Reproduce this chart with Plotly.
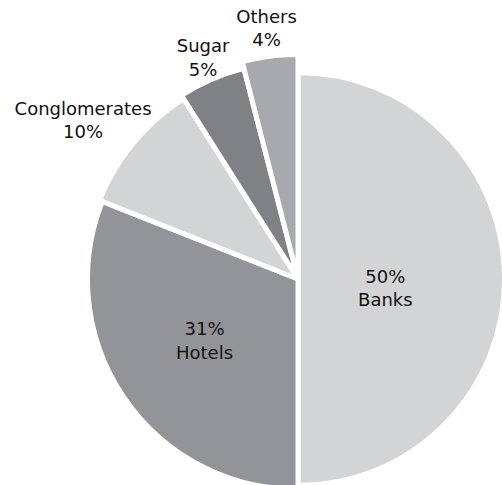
import plotly.graph_objects as go
import numpy as np

# ---- data ----
categories = ["Banks", "Hotels", "Conglomerates", "Sugar", "Others"]
shares = [50, 31, 10, 5, 4]
label_texts = ["50%<br>Banks", "31%<br>Hotels", "Conglomerates<br>10%", "Sugar<br>5%", "Others<br>4%"]

# ---- styles ----
colors = ["#d3d4d6", "#939497", "#d3d4d6", "#808184", "#a8a9ac"]
slice_radius = [206.5, 210.5, 213.5, 217.5, 224.5]
label_radius = [88, 113, 266, 239, 251]
label_angle_shift = [7, 0, -3.5, 0, 0]

total = float(sum(shares))
widths = [v / total * 360 for v in shares]
starts = np.cumsum([0] + widths[:-1])
mids = [s + w / 2 for s, w in zip(starts, widths)]

fig = go.Figure()
fig.add_trace(go.Barpolar(
    r=slice_radius,
    theta=mids,
    width=widths,
    marker=dict(color=colors, line=dict(color="white", width=5)),
    hovertext=categories,
    hoverinfo="text",
    showlegend=False,
))
fig.add_trace(go.Scatterpolar(
    r=label_radius,
    theta=[m + s for m, s in zip(mids, label_angle_shift)],
    mode="text",
    text=label_texts,
    textposition="middle center",
    textfont=dict(family="DejaVu Sans", size=18, color="#111111"),
    cliponaxis=False,
    hoverinfo="skip",
    showlegend=False,
))

# The figure is larger than the 502x485 window; the window shows its top-left part.
W, H = 570, 552
cx, cy_top, R = 298, 279, 272
cy_from_bottom = H - cy_top
fig.update_layout(
    width=W, height=H,
    margin=dict(l=0, r=0, t=0, b=0),
    paper_bgcolor="white",
    polar=dict(
        domain=dict(x=[(cx - R) / W, (cx + R) / W],
                    y=[(cy_from_bottom - R) / H, (cy_from_bottom + R) / H]),
        bgcolor="rgba(0,0,0,0)",
        hole=0,
        radialaxis=dict(range=[0, R], visible=False),
        angularaxis=dict(rotation=90, direction="clockwise", visible=False),
    ),
)

fig.write_html(
    "out.html",
    post_script="document.documentElement.style.overflow='hidden';"
                "document.body.style.overflow='hidden';document.body.style.margin='0';",
)
